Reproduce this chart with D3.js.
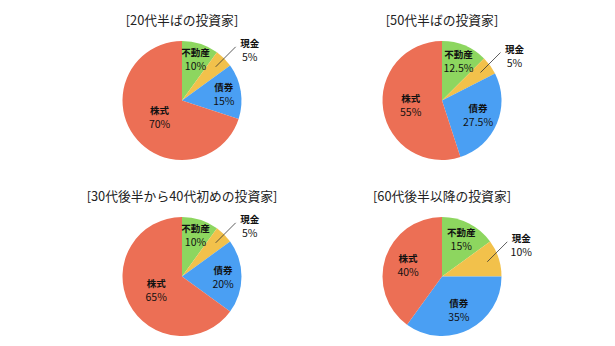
<!DOCTYPE html>
<html>
<head>
<meta charset="utf-8">
<script src="https://cdn.jsdelivr.net/npm/d3@7"></script>
<style>
	body { margin: 0; background: #fff; }
	text { font-family: "Noto Sans CJK JP", "Noto Sans", sans-serif; }
</style>
</head>
<body>
<div class="wrapper"></div>
<script>

var categories = ["不動産", "現金", "債券", "株式"];
var titles = ["[20代半ばの投資家]", "[50代半ばの投資家]", "[30代後半から40代初めの投資家]", "[60代後半以降の投資家]"];
var values20s = [10, 5, 15, 70];
var values50s = [12.5, 5, 27.5, 55];
var values30s = [10, 5, 20, 65];
var values60s = [15, 10, 35, 40];
var colors = ["#8dd65f", "#f2c14b", "#4a9ff3", "#ec6f55"];

var charts = [values20s, values50s, values30s, values60s];

var WIDTH = 615,
	HEIGHT = 346,
	RADIUS = 59.5,
	COL_X = [182, 442],
	ROW_Y = [100.5, 276.5];

var svg = d3.select(".wrapper")
	.append("svg")
		.attr("width", WIDTH)
		.attr("height", HEIGHT);

var pie = d3.pie()
	.sort(null)
	.value(function(d) { return d.value; });

var arc = d3.arc().innerRadius(0).outerRadius(RADIUS);
var leaderArc = d3.arc().innerRadius(RADIUS * 0.8).outerRadius(RADIUS * 0.8);

// bigger slices get their label nearer the centre
function labelPos(d) {
	var frac = (d.endAngle - d.startAngle) / (2 * Math.PI);
	var r = RADIUS * (0.78 - 0.45 * frac);
	return d3.arc().innerRadius(r).outerRadius(r).centroid(d);
}

charts.forEach(function(vals, c) {
	var cx = COL_X[c % 2],
		cy = ROW_Y[Math.floor(c / 2)];

	var data = vals.map(function(v, i) {
		return {name: categories[i], value: v, color: colors[i]};
	});

	var g = svg.append("g")
		.attr("transform", "translate(" + cx + "," + cy + ")");

	svg.append("text")
		.attr("x", cx)
		.attr("y", cy - 75.5)
		.attr("text-anchor", "middle")
		.attr("font-size", 12.8)
		.attr("fill", "#222")
		.text(titles[c]);

	var slices = pie(data);

	g.selectAll("path")
		.data(slices)
		.enter()
		.append("path")
			.attr("d", arc)
			.attr("fill", function(d) { return d.data.color; });

	// labels inside the slices, except 現金 which gets a leader line
	slices.forEach(function(d) {
		var p, tx, ty;
		if (d.data.name == "現金") {
			p = leaderArc.centroid(d);
			var ex = p[0] + 20, ey = p[1] - 20;
			g.append("line")
				.attr("x1", p[0]).attr("y1", p[1])
				.attr("x2", ex).attr("y2", ey)
				.attr("stroke", "#333")
				.attr("stroke-width", 0.8);
			tx = ex + 14;
			ty = ey + 3;
		} else {
			p = labelPos(d);
			tx = p[0];
			ty = p[1];
		}
		var t = g.append("text")
			.attr("text-anchor", "middle")
			.attr("fill", "#111");
		t.append("tspan")
			.attr("x", tx)
			.attr("y", ty - 3)
			.attr("font-size", 9.5)
			.attr("font-weight", "bold")
			.text(d.data.name);
		t.append("tspan")
			.attr("x", tx)
			.attr("y", ty + 11)
			.attr("font-size", 10.5)
			.text(d.data.value + "%");
	});
});

</script>
</body>
</html>
